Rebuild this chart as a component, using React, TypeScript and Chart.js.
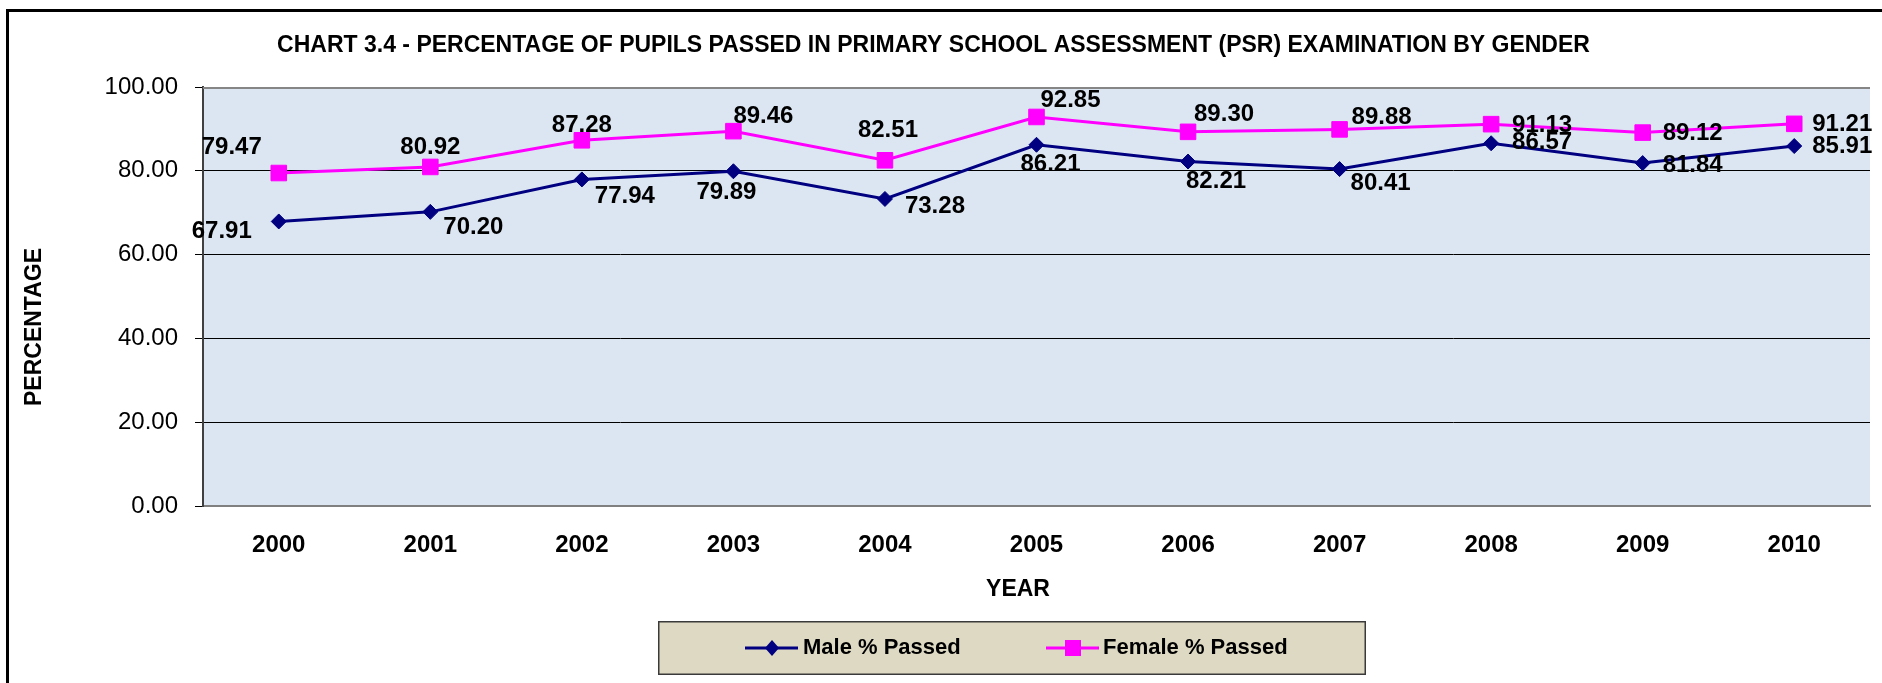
import React, { useEffect, useRef } from 'react';
import { Chart, registerables } from 'chart.js';

Chart.register(...registerables);

// ---------- data ----------
const years = ['2000', '2001', '2002', '2003', '2004', '2005', '2006', '2007', '2008', '2009', '2010'];
const malePassed = [67.91, 70.2, 77.94, 79.89, 73.28, 86.21, 82.21, 80.41, 86.57, 81.84, 85.91];
const femalePassed = [79.47, 80.92, 87.28, 89.46, 82.51, 92.85, 89.3, 89.88, 91.13, 89.12, 91.21];
const yTickValues = [0, 20, 40, 60, 80, 100];
const seriesNames = ['Male % Passed', 'Female % Passed'];
const chartTitle = 'CHART 3.4 - PERCENTAGE OF PUPILS PASSED IN PRIMARY SCHOOL ASSESSMENT (PSR) EXAMINATION BY GENDER';
const xAxisTitle = 'YEAR';
const yAxisTitle = 'PERCENTAGE';

// data-label offsets (px, relative to each point)
const maleLabelOffsets = [[-57, 10], [43, 16], [43, 17], [-7, 21], [50, 7], [14, 20], [28, 20], [41, 14], [51, -1], [50, 2], [48, 0]];
const femaleLabelOffsets = [[-47, -26], [0, -20], [0, -15], [30, -15], [3, -30], [34, -17], [36, -17], [42, -12], [51, 1], [50, 1], [48, 1]];

// ---------- styles ----------
const FONT = '"Liberation Sans", Arial, sans-serif';
const MALE_COLOR = '#000080';
const FEMALE_COLOR = '#FF00FF';
const PLOT_BG = '#DCE6F2';
const LEGEND_BG = '#DDD9C3';

const decorPlugin = {
  id: 'decor',
  beforeDraw(chart: any) {
    const { ctx, chartArea } = chart;
    ctx.save();
    ctx.fillStyle = '#FFFFFF';
    ctx.fillRect(0, 0, chart.width, chart.height);
    ctx.fillStyle = PLOT_BG;
    ctx.fillRect(chartArea.left, chartArea.top, chartArea.right - chartArea.left, chartArea.bottom - chartArea.top);
    ctx.restore();
  },
  beforeDatasetsDraw(chart: any) {
    const { ctx, chartArea } = chart;
    ctx.save();
    ctx.strokeStyle = '#868686';
    ctx.lineWidth = 2;
    ctx.beginPath();
    ctx.moveTo(chartArea.left, chartArea.top + 1);
    ctx.lineTo(chartArea.right, chartArea.top + 1);
    ctx.stroke();
    ctx.restore();
  },
  afterDatasetsDraw(chart: any) {
    const { ctx } = chart;
    ctx.save();
    ctx.font = `bold 24px ${FONT}`;
    ctx.fillStyle = '#000000';
    ctx.textAlign = 'center';
    ctx.textBaseline = 'middle';
    const offsetsList = [maleLabelOffsets, femaleLabelOffsets];
    chart.data.datasets.forEach((ds: any, di: number) => {
      const meta = chart.getDatasetMeta(di);
      meta.data.forEach((pt: any, i: number) => {
        const [dx, dy] = offsetsList[di][i];
        ctx.fillText(Number(ds.data[i]).toFixed(2), pt.x + dx, pt.y + dy);
      });
    });
    ctx.restore();
  },
  afterDraw(chart: any) {
    const { ctx } = chart;
    ctx.save();
    // outer frame (left and top edges visible)
    ctx.strokeStyle = '#000000';
    ctx.lineWidth = 3;
    ctx.beginPath();
    ctx.moveTo(7.5, chart.height + 5);
    ctx.lineTo(7.5, 10.5);
    ctx.lineTo(chart.width + 5, 10.5);
    ctx.stroke();

    // chart title
    ctx.fillStyle = '#000000';
    ctx.textAlign = 'center';
    ctx.textBaseline = 'middle';
    ctx.font = `bold 23px ${FONT}`;
    ctx.fillText(chartTitle, 933.5, 46);

    // axis titles
    ctx.font = `bold 23px ${FONT}`;
    ctx.fillText(xAxisTitle, 1018, 590);
    ctx.save();
    ctx.translate(35, 327);
    ctx.rotate(-Math.PI / 2);
    ctx.fillText(yAxisTitle, 0, 0);
    ctx.restore();

    // legend
    const lx = 658, ly = 621, lw = 708, lh = 54;
    ctx.fillStyle = LEGEND_BG;
    ctx.fillRect(lx, ly, lw, lh);
    ctx.strokeStyle = '#3a3a3a';
    ctx.lineWidth = 1.5;
    ctx.strokeRect(lx + 0.75, ly + 0.75, lw - 1.5, lh - 1.5);

    const cy = 648;
    // male item
    ctx.strokeStyle = MALE_COLOR;
    ctx.lineWidth = 3;
    ctx.beginPath();
    ctx.moveTo(745, cy);
    ctx.lineTo(798, cy);
    ctx.stroke();
    ctx.fillStyle = MALE_COLOR;
    ctx.beginPath();
    ctx.moveTo(772, cy - 8);
    ctx.lineTo(779, cy);
    ctx.lineTo(772, cy + 8);
    ctx.lineTo(765, cy);
    ctx.closePath();
    ctx.fill();
    // female item
    ctx.strokeStyle = FEMALE_COLOR;
    ctx.beginPath();
    ctx.moveTo(1046, cy);
    ctx.lineTo(1099, cy);
    ctx.stroke();
    ctx.fillStyle = FEMALE_COLOR;
    ctx.fillRect(1065, cy - 8, 16, 16);

    ctx.fillStyle = '#000000';
    ctx.textAlign = 'left';
    ctx.font = `bold 22px ${FONT}`;
    ctx.fillText(seriesNames[0], 803, cy);
    ctx.fillText(seriesNames[1], 1103, cy);
    ctx.restore();
  },
};

export default function App() {
  const canvasRef = useRef<HTMLCanvasElement | null>(null);

  useEffect(() => {
    document.body.style.margin = '0';
    const canvas = canvasRef.current;
    if (!canvas) return;
    const chart = new Chart(canvas, {
      type: 'line',
      data: {
        labels: years,
        datasets: [
          {
            label: seriesNames[0],
            data: malePassed,
            borderColor: MALE_COLOR,
            backgroundColor: MALE_COLOR,
            borderWidth: 3,
            pointStyle: 'rectRot',
            pointRadius: 7.5,
            pointBorderWidth: 1,
            pointBackgroundColor: MALE_COLOR,
            pointBorderColor: MALE_COLOR,
            tension: 0,
          },
          {
            label: seriesNames[1],
            data: femalePassed,
            borderColor: FEMALE_COLOR,
            backgroundColor: FEMALE_COLOR,
            borderWidth: 3,
            pointStyle: 'rect',
            pointRadius: 11,
            pointBorderWidth: 1,
            pointBackgroundColor: FEMALE_COLOR,
            pointBorderColor: FEMALE_COLOR,
            tension: 0,
          },
        ],
      },
      options: {
        responsive: false,
        animation: false,
        devicePixelRatio: 1,
        layout: { padding: { top: 87, left: 0, right: -2, bottom: 77 } },
        plugins: {
          legend: { display: false },
          title: { display: false },
          tooltip: { enabled: false },
        },
        scales: {
          x: {
            type: 'category',
            offset: true,
            grid: { display: false },
            border: { display: true, color: '#808080', width: 2 },
            ticks: {
              color: '#000000',
              padding: 17,
              maxRotation: 0,
              autoSkip: false,
              font: { family: FONT, size: 24, weight: 'bold' },
            },
            afterFit: (s: any) => { s.height = 100; },
          },
          y: {
            min: 0,
            max: 100,
            grid: { color: '#000000', lineWidth: 1, tickLength: 8, tickColor: '#000000' },
            border: { display: true, color: '#404040', width: 2 },
            ticks: {
              color: '#000000',
              padding: 17,
              font: { family: FONT, size: 24 },
              callback: (v: any) => Number(v).toFixed(2),
            },
            afterBuildTicks: (s: any) => { s.ticks = yTickValues.map((v) => ({ value: v })); },
            afterFit: (s: any) => { s.width = 203; },
          },
        },
      },
      plugins: [decorPlugin],
    });
    return () => chart.destroy();
  }, []);

  return <canvas ref={canvasRef} width={1882} height={683} style={{ display: 'block' }} />;
}
